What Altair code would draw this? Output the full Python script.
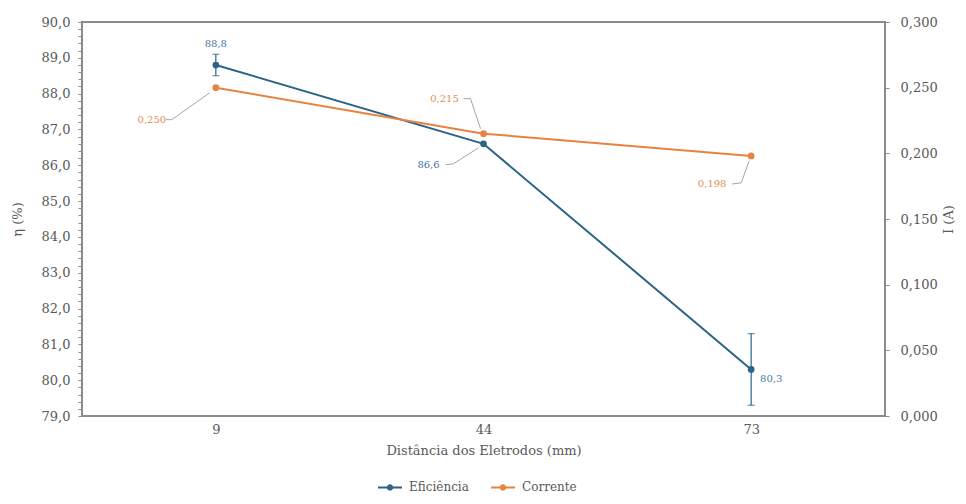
import altair as alt
import pandas as pd

# ---- data ----
distancias = ["9", "44", "73"]
eficiencia = [88.8, 86.6, 80.3]
eficiencia_erro = [0.3, 0.0, 1.0]
corrente = [0.250, 0.215, 0.198]
serie_nomes = ["Eficiência", "Corrente"]
ticks_dir = [0.0, 0.05, 0.10, 0.15, 0.20, 0.25, 0.30]

ticks_esq = [round(79 + 0.2 * i, 1) for i in range(56)]

df = pd.DataFrame({
    "dist": distancias,
    "eff": eficiencia,
    "lo": [e - d for e, d in zip(eficiencia, eficiencia_erro)],
    "hi": [e + d for e, d in zip(eficiencia, eficiencia_erro)],
    "cur": corrente,
    "lab_eff": [f"{v:.1f}".replace(".", ",") for v in eficiencia],
    "lab_cur": [f"{v:.3f}".replace(".", ",") for v in corrente],
    "s_eff": serie_nomes[0],
    "s_cur": serie_nomes[1],
})
df_err = df[[d > 0 for d in eficiencia_erro]]

BLUE = "#2B6487"
ORANGE = "#E8823F"
BLUE_TXT = "#3F76A3"
ORANGE_TXT = "#E0915A"
LEADER = "#A6A6A6"
GRAY = "#595959"
AXIS = "#8C8C8C"
FONT = "DejaVu Serif"

x = alt.X(
    "dist:N", sort=distancias,
    scale=alt.Scale(type="point", padding=0.5),
    axis=alt.Axis(title="Distância dos Eletrodos (mm)", labelAngle=0, ticks=False,
                  domain=False, grid=False, labelPadding=7, titlePadding=8,
                  labelFontSize=13, titleFontSize=13, labelColor=GRAY, titleColor=GRAY,
                  labelFont=FONT, titleFont=FONT, titleFontWeight="normal"),
)
x2 = alt.X2("dist:N")

scale_l = alt.Scale(domain=[79, 90], nice=False, zero=False)
axis_l = alt.Axis(
    title="η (%)", values=ticks_esq,
    labelExpr="abs(datum.value - round(datum.value)) < 0.01 ? replace(format(datum.value, '.1f'), '.', ',') : ''",
    tickSize=4, tickColor=AXIS, tickWidth=1, domain=False, grid=False,
    labelPadding=8, labelFontSize=13, labelColor=GRAY, labelFont=FONT,
    titleFont=FONT, titleFontSize=13, titleColor=GRAY, titleFontWeight="normal",
    titleX=-65, titleY=197, titleAngle=270, titleBaseline="middle", titleAlign="center",
)
scale_r = alt.Scale(domain=[0, 0.3], nice=False, zero=True)
axis_r = alt.Axis(
    title="I (A)", orient="right", values=ticks_dir,
    labelExpr="replace(format(datum.value, '.3f'), '.', ',')",
    tickSize=4, tickColor=AXIS, tickWidth=1, domain=False, grid=False,
    labelPadding=11, labelFontSize=13, labelColor=GRAY, labelFont=FONT,
    titleFont=FONT, titleFontSize=13, titleColor=GRAY, titleFontWeight="normal",
    titleX=63, titleY=197, titleAngle=270, titleBaseline="middle", titleAlign="center",
)

y_eff = alt.Y("eff:Q", scale=scale_l, axis=axis_l)
y_cur = alt.Y("cur:Q", scale=scale_r, axis=axis_r)

color_scale = alt.Scale(domain=serie_nomes, range=[BLUE, ORANGE])
legend = alt.Legend(
    title=None, orient="none", legendX=295, legendY=452, direction="horizontal",
    symbolType="M-1,0L1,0M-0.18,0A0.18,0.18,0,1,0,0.18,0A0.18,0.18,0,1,0,-0.18,0",
    symbolSize=576, symbolStrokeWidth=2, labelFont=FONT, labelFontSize=12,
    labelColor=GRAY, labelOffset=6, columnPadding=18, padding=0,
)

base = alt.Chart(df)


def leader(yenc, yfield, cat, segs):
    out = []
    for (a, b, c, d) in segs:
        out.append(
            base.transform_filter(alt.datum.dist == cat)
            .mark_rule(color=LEADER, strokeWidth=1, xOffset=a, yOffset=b, x2Offset=c, y2Offset=d)
            .encode(x=x, x2=x2, y=yenc, y2=alt.Y2(yfield))
        )
    return out


def label(yenc, field, cat, dx, dy, color):
    return (
        base.transform_filter(alt.datum.dist == cat)
        .mark_text(dx=dx, dy=dy, font=FONT, fontSize=10, color=color, align="center", baseline="middle")
        .encode(x=x, y=yenc, text=f"{field}:N")
    )


err_base = alt.Chart(df_err)

# ---- Eficiência layers ----
eff_line = base.mark_line(strokeWidth=2).encode(
    x=x, y=y_eff, color=alt.Color("s_eff:N", scale=color_scale, legend=legend)
)
eff_err = err_base.mark_rule(color=BLUE, strokeWidth=1.2).encode(
    x=x, y=alt.Y("lo:Q", scale=scale_l, axis=axis_l), y2="hi:Q"
)
eff_cap_hi = err_base.mark_tick(color=BLUE, thickness=1.2, size=7, orient="horizontal").encode(
    x=x, y=alt.Y("hi:Q", scale=scale_l, axis=axis_l)
)
eff_cap_lo = err_base.mark_tick(color=BLUE, thickness=1.2, size=7, orient="horizontal").encode(
    x=x, y=alt.Y("lo:Q", scale=scale_l, axis=axis_l)
)
eff_pts = base.mark_point(filled=True, size=45, opacity=1, color=BLUE).encode(x=x, y=y_eff)

eff_layers = [eff_line, eff_err, eff_cap_hi, eff_cap_lo, eff_pts,
              label(y_eff, "lab_eff", "9", 0, -21, BLUE_TXT),
              label(y_eff, "lab_eff", "44", -55, 21, BLUE_TXT),
              label(y_eff, "lab_eff", "73", 20, 10, BLUE_TXT)]
eff_layers += leader(y_eff, "eff", "44", [(-38, 21, -30, 20), (-30, 20, -5, 4)])

# ---- Corrente layers ----
cur_line = base.mark_line(strokeWidth=2).encode(
    x=x, y=y_cur, color=alt.Color("s_cur:N", scale=color_scale, legend=legend)
)
cur_pts = base.mark_point(filled=True, size=45, opacity=1, color=ORANGE).encode(x=x, y=y_cur)

cur_layers = [cur_line, cur_pts,
              label(y_cur, "lab_cur", "9", -64, 32, ORANGE_TXT),
              label(y_cur, "lab_cur", "44", -39, -35, ORANGE_TXT),
              label(y_cur, "lab_cur", "73", -39, 28, ORANGE_TXT)]
cur_layers += leader(y_cur, "cur", "9", [(-50, 32, -44, 32), (-44, 32, -6, 5)])
cur_layers += leader(y_cur, "cur", "44", [(-20, -35, -13, -35), (-13, -35, -3, -5)])
cur_layers += leader(y_cur, "cur", "73", [(-19, 28, -10, 27), (-10, 27, -2, 5)])

chart = (
    alt.layer(alt.layer(*eff_layers), alt.layer(*cur_layers))
    .resolve_scale(y="independent")
    .properties(
        width=803, height=394,
        padding={"left": 74, "top": 14, "right": 73, "bottom": 80},
        autosize=alt.AutoSizeParams(type="none"),
        background="white",
    )
    .configure_view(stroke=AXIS, strokeWidth=2)
)

chart.save("out.html", embed_options={"renderer": "svg", "actions": False})
